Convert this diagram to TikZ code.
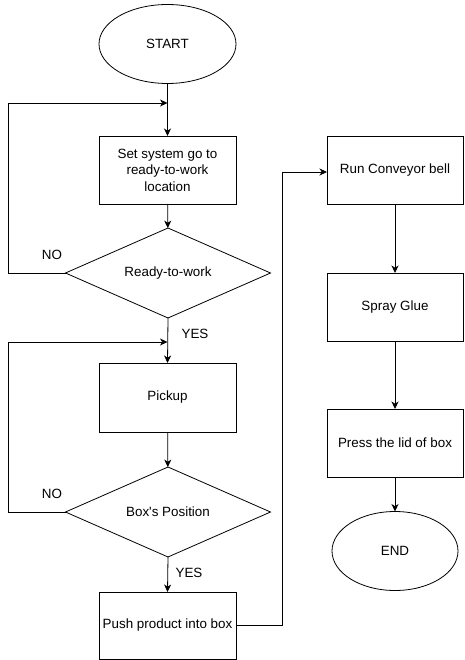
\documentclass[tikz,border=0pt]{standalone}
\usepackage{fontspec}
\setmainfont{Liberation Sans}[Ligatures=TeXOff]
\usetikzlibrary{shapes.geometric,arrows.meta}
\tikzset{
  x=1pt,y=-1pt,
  base/.style={draw=black,line width=0.8pt,align=center,inner sep=0pt,outer sep=0pt,
    font=\fontsize{13.4}{16.5}\selectfont},
  term/.style={base,ellipse,minimum width=#1,minimum height=79pt},
  procbox/.style={base,rectangle,minimum width=137pt,minimum height=68pt},
  decide/.style={base,diamond,aspect=2.28,minimum width=205pt,minimum height=90pt},
  conn/.style={line width=0.8pt,-{Stealth[length=7.5pt,width=7pt,inset=2.2pt]}},
  lbl/.style={font=\fontsize{13.4}{16}\selectfont,inner sep=0pt}
}
\begin{document}
\begin{tikzpicture}
\useasboundingbox (0,0) rectangle (464,660);
\node[term=137pt] (start) at (167.5,44) {START};
\node[procbox] (set) at (167.5,170) {Set system go to\\ready-to-work\\location};
\node[decide] (rtw) at (168,273) {Ready-to-work};
\node[procbox,minimum height=69pt] (pick) at (167.5,397.5) {Pickup};
\node[decide] (bpos) at (168,512) {Box's Position};
\node[procbox,minimum height=67pt] (push) at (167.5,625.5) {Push product into box};
\node[procbox,minimum width=136pt] (run) at (395,170) {Run Conveyor bell};
\node[procbox,minimum width=136pt] (spray) at (395,307) {Spray Glue};
\node[procbox,minimum width=136pt] (press) at (395,443) {Press the lid of box};
\node[term=126pt] (end) at (395,551) {END};

\coordinate (m1) at (167.5,103);
\coordinate (l1) at (8,103);
\coordinate (l1b) at (8,273);
\coordinate (m2) at (167.5,342);
\coordinate (l2) at (8,342);
\coordinate (l2b) at (8,512);
\coordinate (r1) at (282,625.5);
\coordinate (r2) at (282,172);

\draw[conn] (start) -- (set);
\draw[conn] (set) -- (rtw);
\draw[conn] (rtw.west) -- (l1b) -- (l1) -- (m1);
\draw[conn] (rtw.south) -- (pick.north);
\draw[conn] (pick) -- (bpos);
\draw[conn] (bpos.west) -- (l2b) -- (l2) -- (m2);
\draw[conn] (bpos.south) -- (push.north);
\draw[conn] (push.east) -- (r1) -- (r2) -- (run.west |- r2);
\draw[conn] (run) -- (spray);
\draw[conn] (spray) -- (press);
\draw[conn] (press) -- (end);

\node[lbl] (no1) at (52,255) {NO};
\node[lbl] (yes1) at (195,334) {YES};
\node[lbl] (no2) at (52,494) {NO};
\node[lbl] (yes2) at (189,573) {YES};
\end{tikzpicture}
\end{document}
